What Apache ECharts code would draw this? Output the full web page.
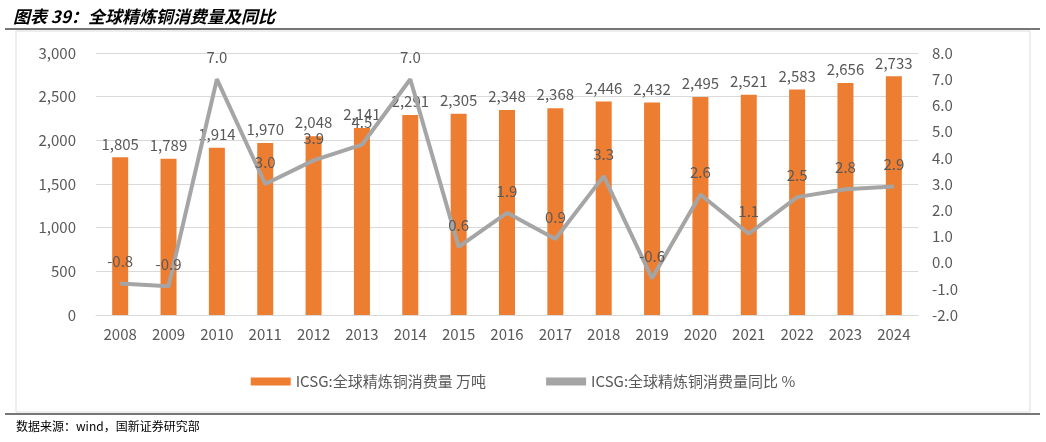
<!DOCTYPE html>
<html>
<head>
<meta charset="utf-8">
<script src="https://cdn.jsdelivr.net/npm/echarts@6/dist/echarts.min.js"></script>
<style>html,body{margin:0;padding:0;background:#fff}#main{width:1046px;height:442px}</style>
</head>
<body>
<div id="main"></div>
<script>
// chart data
var years = ["2008","2009","2010","2011","2012","2013","2014","2015","2016","2017","2018","2019","2020","2021","2022","2023","2024"];
var consumption = [1805,1789,1914,1970,2048,2141,2291,2305,2348,2368,2446,2432,2495,2521,2583,2656,2733];
var yoy = [-0.8,-0.9,7.0,3.0,3.9,4.5,7.0,0.6,1.9,0.9,3.3,-0.6,2.6,1.1,2.5,2.8,2.9];

var chart = echarts.init(document.getElementById("main"));
var font = "'Noto Sans CJK SC', sans-serif";

var option = {
  animation: false,
  textStyle: { fontFamily: font },
  title: {
    text: "图表 39：全球精炼铜消费量及同比",
    left: 8, top: 3,
    textStyle: { fontSize: 17, fontWeight: "bold", fontStyle: "italic", color: "#000", fontFamily: font }
  },
  graphic: [
    { type: "line", shape: { x1: 5, y1: 29, x2: 1040, y2: 29 }, style: { stroke: "#777", lineWidth: 2 } },
    { type: "rect", shape: { x: 16, y: 31, width: 1014, height: 381 }, style: { fill: "none", stroke: "#ddd", lineWidth: 1 } },
    { type: "line", shape: { x1: 5, y1: 414, x2: 1040, y2: 414 }, style: { stroke: "#777", lineWidth: 2 } },
    { type: "text", left: 16, top: 420, style: { text: "数据来源：wind，国新证券研究部", fontSize: 12, fill: "#000", fontFamily: font } }
  ],
  grid: { left: 96, right: 128, top: 53, bottom: 127 },
  legend: {
    bottom: 48, left: "center", itemGap: 60,
    itemWidth: 40, itemHeight: 8,
    textStyle: { fontSize: 15, color: "#595959" },
    data: [
      { name: "ICSG:全球精炼铜消费量 万吨", icon: "rect" },
      { name: "ICSG:全球精炼铜消费量同比 %", icon: "rect", itemStyle: { color: "#a5a5a5" } }
    ]
  },
  xAxis: {
    type: "category",
    data: years,
    axisTick: { show: false },
    axisLine: { lineStyle: { color: "#d9d9d9" } },
    axisLabel: { color: "#595959", fontSize: 15, margin: 12 }
  },
  yAxis: [
    {
      type: "value", min: 0, max: 3000, interval: 500,
      axisLabel: { color: "#595959", fontSize: 15, margin: 20,
        formatter: function (v) { return v.toLocaleString("en-US"); } },
      splitLine: { lineStyle: { color: "#d9d9d9" } }
    },
    {
      type: "value", min: -2, max: 8, interval: 1,
      axisLabel: { color: "#595959", fontSize: 15, margin: 14,
        formatter: function (v) { return v.toFixed(1); } },
      splitLine: { show: false }
    }
  ],
  series: [
    {
      name: "ICSG:全球精炼铜消费量 万吨",
      type: "bar",
      data: consumption,
      barWidth: 16,
      itemStyle: { color: "#ed7d31" },
      label: { show: true, position: "top", distance: 6, color: "#595959", fontSize: 15,
        formatter: function (p) { return p.value.toLocaleString("en-US"); } }
    },
    {
      name: "ICSG:全球精炼铜消费量同比 %",
      type: "line",
      yAxisIndex: 1,
      z: 5,
      data: yoy,
      symbol: "circle",
      symbolSize: 1,
      lineStyle: { color: "#a5a5a5", width: 4 },
      itemStyle: { color: "#a5a5a5" },
      label: { show: true, position: "top", distance: 14, color: "#595959", fontSize: 15,
        formatter: function (p) { return p.value.toFixed(1); } }
    }
  ]
};

chart.setOption(option);
</script>
</body>
</html>
